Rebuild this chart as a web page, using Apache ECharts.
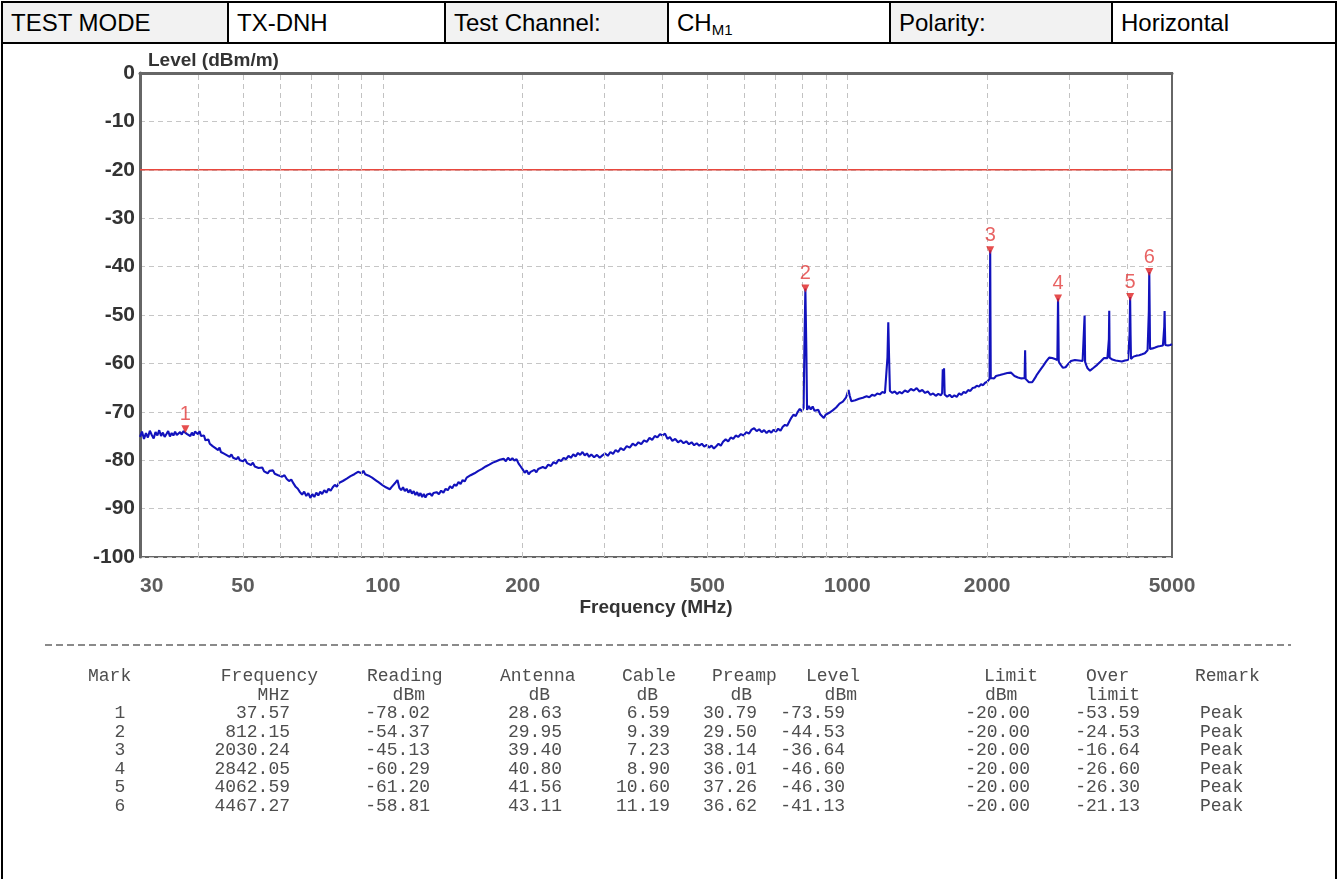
<!DOCTYPE html>
<html>
<head>
<meta charset="utf-8">
<script src="https://cdn.jsdelivr.net/npm/echarts@6/dist/echarts.min.js"></script>
<style>
html,body{margin:0;padding:0;background:#fff;width:1338px;height:879px;overflow:hidden;}
#chart{position:absolute;left:0;top:0;width:1338px;height:879px;}
.ln{position:absolute;background:#000;}
.hcell{position:absolute;top:2px;height:41px;line-height:41px;font-family:"Liberation Sans",Arial,sans-serif;font-size:24px;color:#000;box-sizing:border-box;padding-left:9px;white-space:nowrap;}
.hcell sub{font-size:15px;vertical-align:-4px;line-height:0;}
.dash{position:absolute;left:45px;top:644px;width:1246px;height:1.5px;background:repeating-linear-gradient(to right,#8a8a8a 0 7px,transparent 7px 11px);}
.t{position:absolute;font-family:"Liberation Mono","DejaVu Sans Mono",monospace;font-size:18px;color:#4e4e4e;white-space:nowrap;line-height:20px;height:20px;}
</style>
</head>
<body>
<div id="chart"></div>
<div id="overlay"></div>
<script>
// ---------------- DATA ----------------
const headerTexts = ['TEST MODE', 'TX-DNH', 'Test Channel:', 'CH<sub>M1</sub>', 'Polarity:', 'Horizontal'];

const yTickLabels = [0, -10, -20, -30, -40, -50, -60, -70, -80, -90, -100];
const xTickLabels = [30, 50, 100, 200, 500, 1000, 2000, 5000];
const xGridFreqs = [40, 50, 60, 70, 80, 90, 100, 200, 300, 400, 500, 600, 700, 800, 900, 1000, 2000, 3000, 4000];

const limitFreq = [30, 5000];
const limitLevel = -20;

const markNo = [1, 2, 3, 4, 5, 6];
const markFreq = [37.57, 812.15, 2030.24, 2842.05, 4062.59, 4467.27];
const markReading = [-78.02, -54.37, -45.13, -60.29, -61.20, -58.81];
const markAntenna = [28.63, 29.95, 39.40, 40.80, 41.56, 43.11];
const markCable = [6.59, 9.39, 7.23, 8.90, 10.60, 11.19];
const markPreamp = [30.79, 29.50, 38.14, 36.01, 37.26, 36.62];
const markLevel = [-73.59, -44.53, -36.64, -46.60, -46.30, -41.13];
const markLimit = [-20.00, -20.00, -20.00, -20.00, -20.00, -20.00];
const markOver = [-53.59, -24.53, -16.64, -26.60, -26.30, -21.13];
const markRemark = ['Peak', 'Peak', 'Peak', 'Peak', 'Peak', 'Peak'];

// measured trace: [frequency MHz, level dBm/m]
const trace = [
[30,-75.2],[30.3,-74.1],[30.6,-75.6],[30.9,-74.4],[31.2,-75.3],[31.5,-73.9],[31.8,-74.8],[32.1,-75.5],[32.4,-74.2],[32.7,-74.9],
[33.0,-73.8],[33.3,-75.0],[33.6,-74.3],[33.9,-75.2],[34.2,-74.6],[34.5,-74.0],[34.8,-75.1],[35.1,-74.4],[35.4,-74.9],[35.7,-74.1],
[36.0,-74.8],[36.3,-75.0],[36.6,-74.2],[36.9,-74.7],[37.2,-74.0],[37.57,-73.59],[37.9,-74.6],[38.2,-74.2],[38.5,-75.0],[38.8,-74.3],
[39.1,-74.9],[39.4,-74.1],[39.7,-73.7],[40.0,-74.6],[40.3,-74.0],[40.6,-75.0],[40.9,-75.4],[41.2,-74.9],[41.5,-75.9],[41.8,-76.2],
[42.1,-75.7],[42.4,-76.6],[42.7,-76.3],[43.0,-77.1],[43.3,-76.7],[43.6,-77.5],[43.9,-77.2],[44.2,-77.9],[44.5,-77.4],[44.8,-78.3],
[45.1,-78.0],[45.4,-78.6],[45.7,-78.2],[46.0,-78.9],[46.4,-78.5],[46.8,-79.3],[47.2,-78.8],[47.6,-79.5],[48.0,-79.1],[48.4,-79.8],
[48.8,-79.3],[49.2,-80.0],[49.6,-79.6],[50.0,-80.2],[50.5,-79.8],[51.0,-80.6],[51.5,-80.3],[52.0,-81.0],[52.5,-80.5],[53.0,-81.3],
[53.5,-80.9],[54.0,-81.6],[54.5,-81.9],[55.0,-81.5],[55.5,-82.3],[56.0,-82.0],[56.5,-82.7],[57.0,-82.2],[57.5,-82.5],[58.0,-82.1],
[58.5,-82.8],[59.0,-82.4],[59.5,-83.1],[60.0,-82.8],[60.7,-83.4],[61.4,-83.1],[62.1,-83.9],[62.8,-84.3],[63.5,-84.0],[64.2,-84.8],
[64.9,-85.5],[65.6,-85.9],[66.3,-86.6],[67.0,-87.1],[67.7,-86.5],[68.4,-87.4],[69.1,-86.8],[69.8,-87.8],[70.5,-87.0],[71.2,-87.6],
[71.9,-86.7],[72.6,-87.3],[73.3,-86.5],[74.0,-87.0],[74.8,-86.2],[75.6,-86.7],[76.4,-85.9],[77.2,-86.3],[78.0,-85.6],[78.8,-85.1],
[79.6,-85.5],[80.4,-84.7],[81.2,-85.0],[82.0,-84.3],[82.8,-84.6],[83.6,-83.8],[84.4,-84.1],[85.2,-83.3],[86.0,-83.6],[86.8,-82.9],
[87.6,-83.2],[88.4,-82.4],[89.2,-82.0],[90.0,-82.7],[90.8,-82.2],[91.6,-82.9],[92.4,-82.5],[93.2,-83.2],[94.0,-82.8],[94.8,-83.6],
[95.6,-83.3],[96.4,-84.1],[97.2,-83.8],[98.0,-84.6],[98.8,-84.2],[99.6,-85.1],[100.5,-84.8],[101.5,-85.6],[102.5,-85.2],[103.5,-86.0],
[104.5,-85.5],[105.5,-85.9],[106.5,-84.6],[107.5,-84.1],[108.5,-85.7],[109.5,-86.2],[110.5,-85.6],[111.5,-86.4],[112.5,-85.9],[113.5,-86.7],
[114.5,-86.1],[115.5,-86.9],[116.5,-86.4],[117.5,-87.2],[118.5,-86.6],[119.5,-87.4],[120.5,-86.8],[121.5,-87.6],[122.5,-87.0],[123.5,-87.7],
[124.5,-87.1],[125.5,-87.5],[126.5,-86.9],[127.5,-87.4],[128.5,-86.8],[129.5,-87.2],[130.5,-86.6],[132,-87.0],[133.5,-86.3],[135,-86.7],
[136.5,-85.9],[138,-86.2],[139.5,-85.4],[141,-85.8],[142.5,-85.0],[144,-85.3],[145.5,-84.5],[147,-84.9],[148.5,-84.1],[150,-84.4],
[151.5,-83.6],[153,-83.9],[154.5,-83.1],[156,-83.5],[157.5,-82.7],[159,-83.0],[160.5,-82.2],[162,-82.6],[163.5,-81.8],[165,-82.1],
[166.5,-81.3],[168,-81.7],[169.5,-80.9],[171,-81.2],[172.5,-80.5],[174,-80.8],[175.5,-80.2],[177,-80.6],[178.5,-79.9],[180,-80.3],
[182,-79.7],[184,-80.2],[186,-79.5],[188,-80.0],[190,-79.6],[192,-80.1],[194,-79.8],[196,-80.7],[198,-81.3],[200,-81.9],
[202,-82.6],[204,-82.1],[206,-82.9],[208,-82.4],[210,-82.8],[212,-82.0],[214,-82.5],[216,-81.8],[218,-82.2],[221,-81.4],
[224,-81.7],[227,-80.9],[230,-81.2],[233,-80.4],[236,-80.7],[239,-79.9],[242,-80.2],[245,-79.5],[248,-79.8],[251,-79.1],
[254,-79.5],[257,-78.8],[260,-79.2],[263,-78.5],[266,-78.9],[269,-78.3],[272,-79.0],[275,-78.6],[278,-79.3],[281,-78.8],
[285,-79.4],[289,-78.9],[293,-79.5],[297,-79.0],[301,-78.6],[305,-79.1],[309,-78.3],[313,-78.7],[317,-77.9],[321,-78.3],
[325,-77.5],[330,-77.9],[335,-77.1],[340,-77.4],[345,-76.6],[350,-77.0],[355,-76.3],[360,-76.7],[365,-75.9],[370,-76.2],
[375,-75.4],[380,-75.8],[385,-75.0],[390,-75.3],[395,-74.6],[400,-74.9],[405,-74.5],[410,-75.6],[415,-75.2],[420,-76.0],
[426,-75.6],[432,-76.3],[438,-75.9],[444,-76.5],[450,-76.1],[456,-76.7],[462,-76.3],[468,-76.9],[474,-76.5],[480,-77.0],
[486,-76.6],[492,-77.2],[498,-76.8],[504,-77.4],[510,-77.0],[516,-77.6],[522,-77.1],[528,-76.6],[534,-77.0],[540,-76.2],
[547,-75.7],[554,-76.1],[561,-75.3],[568,-75.6],[575,-74.9],[582,-75.2],[590,-74.6],[598,-74.9],[606,-74.2],[614,-74.5],
[622,-73.7],[630,-73.4],[638,-74.0],[646,-73.6],[654,-74.2],[662,-73.8],[670,-74.4],[678,-73.9],[686,-74.3],[694,-73.7],
[702,-74.1],[710,-73.5],[718,-73.9],[726,-73.1],[734,-72.7],[742,-72.9],[750,-72.0],[758,-71.2],[766,-70.6],[774,-70.9],
[782,-70.0],[790,-69.4],[798,-69.9],[805,-69.2],[808,-57.6],[812.15,-44.53],[816,-57.0],[819,-69.6],[826,-68.8],[834,-69.5],
[842,-68.9],[850,-69.8],[858,-70.2],[866,-69.6],[874,-70.5],[882,-70.9],[890,-71.3],[898,-70.6],[906,-71.0],[914,-70.2],
[922,-70.5],[930,-69.7],[938,-69.9],[946,-69.1],[954,-68.8],[962,-68.3],[970,-68.6],[978,-67.9],[986,-67.5],[994,-67.0],
[1000,-66.2],[1006,-65.5],[1012,-66.7],[1020,-67.8],[1030,-68.0],[1040,-67.6],[1050,-67.9],[1060,-67.3],[1070,-67.6],[1080,-67.1],
[1090,-67.4],[1100,-66.8],[1115,-67.0],[1130,-66.5],[1145,-66.7],[1160,-66.2],[1175,-66.4],[1190,-65.9],[1205,-66.1],[1215,-65.7],
[1220,-58.8],[1225,-51.5],[1230,-58.9],[1235,-65.7],[1250,-66.1],[1265,-65.8],[1280,-66.3],[1295,-65.9],[1310,-66.2],[1330,-65.6],
[1350,-65.9],[1370,-65.3],[1390,-65.6],[1410,-65.1],[1430,-65.8],[1450,-65.5],[1470,-66.1],[1490,-65.8],[1510,-66.5],[1530,-66.2],
[1550,-66.7],[1570,-66.3],[1590,-66.6],[1600,-66.1],[1605,-61.2],[1610,-62.6],[1615,-61.0],[1620,-66.4],[1640,-66.9],[1660,-66.5],
[1680,-67.0],[1700,-66.6],[1720,-66.9],[1740,-66.2],[1760,-66.5],[1780,-65.9],[1800,-66.1],[1820,-65.5],[1840,-65.7],[1860,-65.1],
[1880,-65.0],[1900,-64.6],[1920,-64.8],[1940,-64.3],[1960,-64.5],[1980,-64.0],[2000,-63.8],[2015,-63.4],[2024,-63.2],[2027,-50.0],
[2030.24,-36.64],[2033,-50.3],[2036,-63.0],[2050,-62.8],[2070,-63.1],[2090,-62.6],[2110,-62.9],[2130,-62.4],[2150,-62.7],[2170,-62.2],
[2190,-62.5],[2210,-62.0],[2230,-62.3],[2250,-61.9],[2270,-62.2],[2290,-62.6],[2310,-62.4],[2330,-62.9],[2350,-62.7],[2370,-63.1],
[2390,-62.8],[2408,-63.0],[2414,-57.3],[2420,-63.2],[2440,-63.5],[2460,-63.9],[2480,-63.6],[2500,-63.9],[2520,-63.4],[2540,-62.9],
[2560,-62.3],[2580,-61.9],[2600,-61.4],[2620,-61.0],[2640,-60.5],[2660,-60.1],[2680,-59.6],[2700,-59.2],[2720,-58.8],[2740,-59.1],
[2760,-58.9],[2780,-59.3],[2800,-59.1],[2820,-59.5],[2832,-59.3],[2836,-54.5],[2842.05,-46.60],[2848,-54.0],[2852,-59.6],[2870,-60.1],
[2890,-60.5],[2910,-60.9],[2930,-61.1],[2950,-60.8],[2970,-60.5],[2990,-60.1],[3010,-59.8],[3030,-59.5],[3060,-59.7],[3090,-59.3],
[3120,-59.6],[3150,-59.4],[3180,-59.8],[3210,-59.5],[3235,-59.6],[3242,-50.1],[3250,-59.7],[3270,-60.4],[3290,-61.0],[3310,-61.3],
[3330,-61.5],[3360,-61.2],[3390,-60.9],[3420,-60.6],[3450,-60.3],[3480,-59.9],[3510,-59.6],[3540,-59.2],[3570,-58.9],[3600,-58.7],
[3630,-58.9],[3650,-58.6],[3657,-55.0],[3663,-49.1],[3670,-58.8],[3690,-59.0],[3720,-59.2],[3750,-59.0],[3780,-59.4],[3810,-59.7],
[3840,-59.5],[3870,-59.9],[3900,-59.6],[3930,-59.8],[3960,-59.4],[3990,-59.7],[4020,-59.3],[4045,-59.2],[4052,-54.0],[4062.59,-46.30],
[4072,-54.2],[4080,-59.1],[4100,-58.8],[4130,-58.6],[4160,-58.9],[4190,-58.4],[4220,-58.1],[4250,-58.3],[4280,-57.9],[4310,-58.1],
[4340,-57.7],[4370,-57.9],[4400,-57.5],[4430,-57.3],[4452,-57.2],[4458,-49.2],[4467.27,-41.13],[4476,-49.0],[4484,-57.0],[4510,-57.2],
[4540,-56.9],[4570,-57.1],[4600,-56.7],[4630,-56.9],[4660,-56.5],[4690,-56.8],[4720,-56.4],[4750,-56.7],[4780,-56.3],[4805,-56.5],
[4812,-52.4],[4820,-49.2],[4828,-53.0],[4836,-56.2],[4870,-56.0],[4900,-56.3],[4930,-55.9],[4960,-56.2],[5000,-56.0]
];

// ---------------- LAYOUT (positions / styles) ----------------
const FONT = '"Liberation Sans", Arial, sans-serif';
const headerEdges = [2, 228, 445, 668, 890, 1112, 1336];
const headerShaded = [true, false, true, false, true, false];

const tableHead1Y = 666, tableHead2Y = 685, tableRow0Y = 703, tableRowStep = 18.5;
// column layout: [header1, h1 anchor, h1 x, header2, h2 anchor, h2 x, value anchor, value x]
const tableCols = [
  ['Mark', 'left', 88, '', 'left', 0, 'center', 120],
  ['Frequency', 'right', 318, 'MHz', 'right', 290, 'right', 290],
  ['Reading', 'left', 367, 'dBm', 'right', 425, 'right', 430],
  ['Antenna', 'left', 500, 'dB', 'right', 550, 'right', 562],
  ['Cable', 'left', 622, 'dB', 'right', 658, 'right', 670],
  ['Preamp', 'left', 712, 'dB', 'right', 752, 'right', 757],
  ['Level', 'right', 860, 'dBm', 'right', 857, 'right', 845],
  ['Limit', 'left', 984, 'dBm', 'left', 985, 'right', 1030],
  ['Over', 'left', 1086, 'limit', 'left', 1086, 'right', 1140],
  ['Remark', 'left', 1195, '', 'left', 0, 'left', 1200]
];

// ---------------- HTML header / table ----------------
const ov = document.getElementById('overlay');
let html = '';
for (let i = 0; i < headerTexts.length; i++) {
  const l = headerEdges[i], w = headerEdges[i + 1] - l;
  html += '<div class="hcell" style="left:' + l + 'px;width:' + w + 'px;background:' + (headerShaded[i] ? '#f2f2f2' : '#fff') + '">' + headerTexts[i] + '</div>';
}
html += '<div class="ln" style="left:1px;top:1px;width:1336px;height:2px"></div>';
html += '<div class="ln" style="left:1px;top:42px;width:1336px;height:2px"></div>';
html += '<div class="ln" style="left:1px;top:1px;width:2px;height:878px"></div>';
html += '<div class="ln" style="left:1335px;top:1px;width:2px;height:878px"></div>';
for (let i = 1; i < headerEdges.length - 1; i++) {
  html += '<div class="ln" style="left:' + (headerEdges[i] - 1) + 'px;top:1px;width:1.5px;height:42px"></div>';
}
html += '<div class="dash"></div>';

function place(text, anchor, x, y) {
  let st = 'top:' + y + 'px;';
  if (anchor === 'left') st += 'left:' + x + 'px;';
  else if (anchor === 'right') st += 'left:' + (x - 300) + 'px;width:300px;text-align:right;';
  else st += 'left:' + (x - 50) + 'px;width:100px;text-align:center;';
  return '<div class="t" style="' + st + '">' + text + '</div>';
}
const f2 = v => v.toFixed(2);
const rowValues = markNo.map((n, i) => [
  String(n), f2(markFreq[i]), f2(markReading[i]), f2(markAntenna[i]), f2(markCable[i]),
  f2(markPreamp[i]), f2(markLevel[i]), f2(markLimit[i]), f2(markOver[i]), markRemark[i]
]);
tableCols.forEach((c, ci) => {
  html += place(c[0], c[1], c[2], tableHead1Y);
  if (c[3]) html += place(c[3], c[4], c[5], tableHead2Y);
  rowValues.forEach((r, ri) => {
    html += place(r[ci], c[6], c[7], Math.round(tableRow0Y + ri * tableRowStep));
  });
});
ov.innerHTML = html;

// ---------------- CHART ----------------
const chart = echarts.init(document.getElementById('chart'));
const axisText = { fontFamily: FONT, fontWeight: 'bold', fontSize: 21, color: '#333' };
const nameText = { fontFamily: FONT, fontWeight: 'bold', fontSize: 19, color: '#333' };

chart.setOption({
  animation: false,
  backgroundColor: 'transparent',
  grid: { left: 140, right: 166, top: 73, bottom: 322, show: true, borderColor: '#666', borderWidth: 2, backgroundColor: '#fff' },
  xAxis: {
    type: 'log', logBase: 10, min: xTickLabels[0], max: xTickLabels[xTickLabels.length - 1],
    axisLine: { show: true, lineStyle: { color: '#666', width: 3 } },
    axisTick: { show: false }, axisLabel: { show: false },
    splitLine: { show: false }, minorTick: { show: false }, minorSplitLine: { show: false },
    name: 'Frequency (MHz)', nameLocation: 'middle', nameGap: 41,
    nameTextStyle: nameText
  },
  yAxis: {
    type: 'value', min: yTickLabels[yTickLabels.length - 1], max: yTickLabels[0], interval: 10,
    axisLine: { show: true, lineStyle: { color: '#666', width: 3 } },
    axisTick: { show: false },
    axisLabel: Object.assign({ margin: 5, padding: [4, 0, 0, 0] }, axisText),
    splitLine: { show: true, lineStyle: { type: [5, 4], color: '#c6c6c6', width: 1 } },
    name: 'Level (dBm/m)', nameLocation: 'end', nameGap: 3, nameMoveOverlap: false,
    nameTextStyle: Object.assign({ align: 'left', verticalAlign: 'bottom', padding: [0, 0, 0, 8] }, nameText)
  },
  series: [
    {
      name: 'xticks', type: 'scatter', silent: true, z: 1, symbolSize: 1,
      itemStyle: { color: 'rgba(0,0,0,0)' },
      data: xTickLabels.map(v => ({ value: [v, -100], label: v === xTickLabels[0] ? { align: 'left' } : {} })),
      label: Object.assign({ show: true, position: 'bottom', distance: 18, formatter: p => String(p.value[0]) }, axisText),
      markLine: {
        silent: true, symbol: ['none', 'none'], label: { show: false },
        lineStyle: { type: [5, 4], color: '#c2c2c2', width: 1 },
        data: xGridFreqs.map(f => ({ xAxis: f }))
      }
    },
    {
      name: 'Limit', type: 'line', silent: true, z: 2, symbol: 'none',
      data: limitFreq.map(f => [f, limitLevel]),
      lineStyle: { color: '#e8483e', width: 1.6 },
      markLine: {
        silent: true, symbol: ['none', 'none'],
        lineStyle: { opacity: 0 },
        label: { show: true, position: 'insideEndTop', distance: 4, formatter: String(limitLevel), color: '#e23c3c', fontSize: 20, fontFamily: FONT },
        data: [{ yAxis: limitLevel }]
      }
    },
    {
      name: 'Level', type: 'line', silent: true, z: 3, symbol: 'none', showSymbol: false,
      data: trace,
      lineStyle: { color: '#1212bc', width: 2.1 }
    },
    {
      name: 'Marks', type: 'scatter', silent: true, z: 5,
      symbol: 'triangle', symbolRotate: 180, symbolSize: [8, 8],
      itemStyle: { color: '#e02222' },
      data: markFreq.map((f, i) => [f, markLevel[i]]),
      label: { show: true, position: 'top', distance: 1, formatter: p => String(markNo[p.dataIndex]), color: '#e23c3c', fontSize: 20, fontFamily: FONT }
    }
  ]
});
</script>
</body>
</html>
